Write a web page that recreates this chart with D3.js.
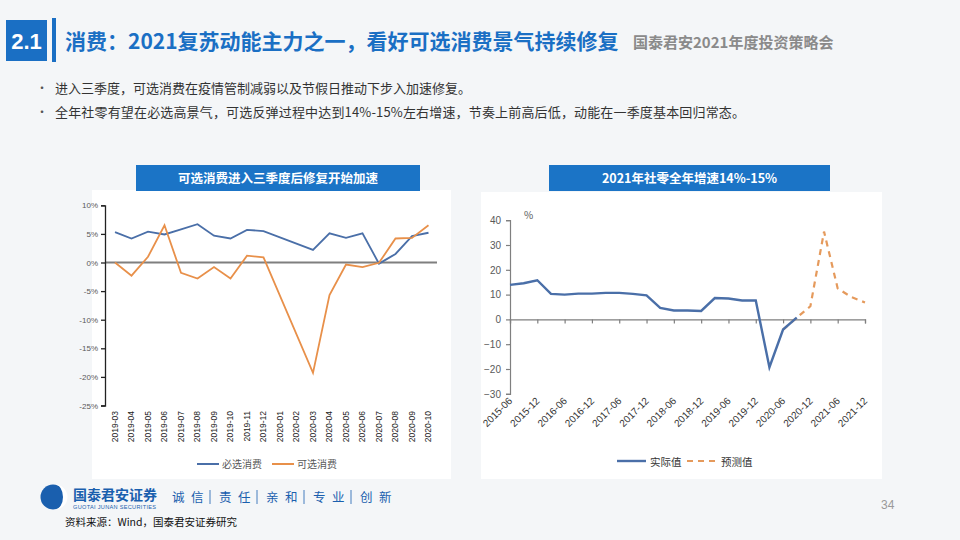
<!DOCTYPE html>
<html><head><meta charset="utf-8">
<script src="https://cdn.jsdelivr.net/npm/d3@7/dist/d3.min.js"></script>
<style>
html,body{margin:0;padding:0;background:#f4f6f8;}
svg{display:block;font-family:"Noto Sans CJK SC","Liberation Sans",sans-serif;}
</style></head>
<body>
<svg id="c" width="960" height="540"></svg>
<script>
// ---------- data ----------
const bullets = [
  "进入三季度，可选消费在疫情管制减弱以及节假日推动下步入加速修复。",
  "全年社零有望在必选高景气，可选反弹过程中达到14%-15%左右增速，节奏上前高后低，动能在一季度基本回归常态。"
];
const leftCats = ["2019-03","2019-04","2019-05","2019-06","2019-07","2019-08","2019-09","2019-10","2019-11","2019-12",
  "2020-01","2020-02","2020-03","2020-04","2020-05","2020-06","2020-07","2020-08","2020-09","2020-10"];
const essential = [5.3,4.2,5.4,4.9,5.8,6.7,4.7,4.2,5.7,5.5,null,null,2.2,5.1,4.3,5.1,-0.2,1.5,4.6,5.2];
const discretionary = [0,-2.3,1.0,6.5,-1.8,-2.8,-0.8,-2.8,1.2,0.9,null,null,-19.3,-5.7,-0.35,-0.8,-0.05,4.2,4.3,6.5];
const leftYTicks = [-25,-20,-15,-10,-5,0,5,10];
const leftSeriesNames = ["必选消费","可选消费"];

const rightTicks = ["2015-06","2015-12","2016-06","2016-12","2017-06","2017-12","2018-06","2018-12",
  "2019-06","2019-12","2020-06","2020-12","2021-06","2021-12"];
const actualDates = ["2015-06","2015-09","2015-12","2016-03","2016-06","2016-09","2016-12","2017-03","2017-06","2017-09",
  "2017-12","2018-03","2018-06","2018-09","2018-12","2019-03","2019-06","2019-09","2019-12","2020-03","2020-06","2020-09"];
const actualValues = [13.9,14.6,15.8,10.3,10.0,10.4,10.4,10.7,10.7,10.3,9.7,4.6,3.6,3.6,3.4,8.6,8.4,7.6,7.6,-19.3,-4.1,0.7];
const forecastDates = ["2020-06","2020-09","2020-12","2021-03","2021-06","2021-09","2021-12"];
const forecastValues = [-4.1,0.7,5.3,35.4,12.5,9.0,6.8];
const rightYTicks = [-30,-20,-10,0,10,20,30,40];
const rightSeriesNames = ["实际值","预测值"];

const sloganGroups = [["诚","信"],["责","任"],["亲","和"],["专","业"],["创","新"]];

// ---------- drawing ----------
const svg = d3.select("#c");
const BLUE = "#1a6fc4", LBLUE = "#4a6fa8", ORANGE = "#e8904a", GRAYTXT = "#595959";

// header
svg.append("rect").attr("x",6).attr("y",20).attr("width",41).attr("height",41).attr("fill",BLUE);
svg.append("text").attr("x",26.5).attr("y",49).attr("text-anchor","middle").attr("fill","#fff")
  .attr("font-size",22).attr("font-weight","bold").attr("font-family","Liberation Sans, sans-serif").text("2.1");
svg.append("rect").attr("x",52).attr("y",18).attr("width",4).attr("height",44).attr("fill",BLUE);
svg.append("text").attr("x",65).attr("y",49).attr("fill",BLUE).attr("font-size",21).attr("font-weight","bold")
  .text("消费：2021复苏动能主力之一，看好可选消费景气持续修复");
svg.append("text").attr("x",633).attr("y",48).attr("fill","#8a8a8a").attr("font-size",15).attr("font-weight","bold")
  .text("国泰君安2021年度投资策略会");

// bullets
bullets.forEach((t,i)=>{
  const y = 93 + i*24;
  svg.append("text").attr("x",36).attr("y",y).attr("fill","#555").attr("font-size",12).text("•");
  const tx = svg.append("text").attr("x",55).attr("y",y).attr("fill","#333").attr("font-size",13).text(t);
  if (i === 1) tx.attr("textLength",690).attr("lengthAdjust","spacing");
});

// ---------- left chart ----------
svg.append("rect").attr("x",92).attr("y",190).attr("width",359).attr("height",289).attr("fill","#fff");
svg.append("rect").attr("x",136).attr("y",165).attr("width",284).attr("height",26).attr("fill","#1b74c6");
svg.append("text").attr("x",278).attr("y",183).attr("text-anchor","middle").attr("fill","#fff")
  .attr("font-size",12.5).attr("font-weight","bold").text("可选消费进入三季度后修复开始加速");

const lx = d3.scaleBand().domain(leftCats).range([106.75,436.75]);
const ly = d3.scaleLinear().domain([-25,10]).range([405.5,205.3]);
const lc = d => lx(d) + lx.bandwidth()/2;

svg.append("line").attr("x1",105).attr("x2",437).attr("y1",ly(0)).attr("y2",ly(0))
  .attr("stroke","#7f7f7f").attr("stroke-width",2.2);

const lyAxis = svg.append("g").attr("transform","translate(105,0)")
  .call(d3.axisLeft(ly).tickValues(leftYTicks).tickFormat(d=>d+"%").tickSize(4).tickPadding(3));
lyAxis.selectAll("path,line").attr("stroke","#222").attr("stroke-width",1.3);
lyAxis.selectAll("text").attr("fill",GRAYTXT).attr("font-size",8).attr("font-family","Liberation Sans, sans-serif");

const lxAxis = svg.append("g").attr("transform","translate(0,409)")
  .call(d3.axisBottom(lx).tickSize(0).tickPadding(0));
lxAxis.select(".domain").remove();
lxAxis.selectAll("text").attr("transform","rotate(-90)").attr("text-anchor","end")
  .attr("x",-2).attr("y",0).attr("dy","0.35em").attr("fill","#222").attr("font-size",8.5)
  .attr("font-family","Liberation Sans, sans-serif");

const lline = d3.line().defined(d=>d[1]!==null).x(d=>lc(d[0])).y(d=>ly(d[1]));
[[essential,LBLUE],[discretionary,ORANGE]].forEach(([vals,col])=>{
  const pts = leftCats.map((c,i)=>[c,vals[i]]).filter(d=>d[1]!==null);
  svg.append("path").datum(pts).attr("d",lline).attr("fill","none").attr("stroke",col).attr("stroke-width",1.8);
});

[[197,LBLUE],[272,ORANGE]].forEach(([x,col],i)=>{
  svg.append("line").attr("x1",x).attr("x2",x+22).attr("y1",464).attr("y2",464).attr("stroke",col).attr("stroke-width",2);
  svg.append("text").attr("x",x+25).attr("y",468).attr("fill",GRAYTXT).attr("font-size",10).text(leftSeriesNames[i]);
});

// ---------- right chart ----------
svg.append("rect").attr("x",481).attr("y",192).attr("width",401).attr("height",287).attr("fill","#fff");
svg.append("rect").attr("x",549).attr("y",165).attr("width",281).attr("height",26).attr("fill","#1b74c6");
svg.append("text").attr("x",689.5).attr("y",183).attr("text-anchor","middle").attr("fill","#fff")
  .attr("font-size",12.5).attr("font-weight","bold").text("2021年社零全年增速14%-15%");

const mIdx = s => { const [y,m] = s.split("-").map(Number); return (y-2015)*12 + (m-6); };
const rx = d3.scaleLinear().domain([0,78]).range([510,865]);
const ry = d3.scaleLinear().domain([-30,40]).range([393.8,220.2]);

const ryAxis = svg.append("g").attr("transform","translate(510,0)")
  .call(d3.axisLeft(ry).tickValues(rightYTicks).tickSize(4).tickPadding(5));
ryAxis.selectAll("path,line").attr("stroke","#7f7f7f").attr("stroke-width",1.2);
ryAxis.selectAll("text").attr("fill",GRAYTXT).attr("font-size",10).attr("font-family","Liberation Sans, sans-serif");

const tickIdx = rightTicks.map(mIdx);
const rxAxis = svg.append("g").attr("transform",`translate(0,${ry(0)})`)
  .call(d3.axisBottom(rx).tickValues(tickIdx).tickSize(4).tickFormat(""));
rxAxis.selectAll("path,line").attr("stroke","#7f7f7f").attr("stroke-width",1.2);

const rxLab = svg.append("g").attr("transform","translate(0,399)")
  .call(d3.axisBottom(rx).tickValues(tickIdx).tickSize(0).tickPadding(0).tickFormat((d,i)=>rightTicks[i]));
rxLab.select(".domain").remove();
rxLab.selectAll("text").attr("transform","rotate(-45)").attr("text-anchor","end")
  .attr("x",0).attr("y",0).attr("dy","0.35em").attr("fill","#333").attr("font-size",10)
  .attr("font-family","Liberation Sans, sans-serif");

svg.append("text").attr("x",524).attr("y",219).attr("fill",GRAYTXT).attr("font-size",10).text("%");

const rline = d3.line().x(d=>rx(mIdx(d[0]))).y(d=>ry(d[1]));
svg.append("path").datum(forecastDates.map((d,i)=>[d,forecastValues[i]])).attr("d",rline)
  .attr("fill","none").attr("stroke","#e59a5c").attr("stroke-width",2.2).attr("stroke-dasharray","6,5");
svg.append("path").datum(actualDates.map((d,i)=>[d,actualValues[i]])).attr("d",rline)
  .attr("fill","none").attr("stroke",LBLUE).attr("stroke-width",2.4);

svg.append("line").attr("x1",617).attr("x2",646).attr("y1",461).attr("y2",461).attr("stroke",LBLUE).attr("stroke-width",2.4);
svg.append("text").attr("x",650).attr("y",465.5).attr("fill","#333").attr("font-size",10.5).text(rightSeriesNames[0]);
svg.append("line").attr("x1",687).attr("x2",717).attr("y1",461).attr("y2",461).attr("stroke","#e59a5c")
  .attr("stroke-width",2.2).attr("stroke-dasharray","6,5");
svg.append("text").attr("x",721).attr("y",465.5).attr("fill","#333").attr("font-size",10.5).text(rightSeriesNames[1]);

// ---------- footer ----------
const FB = "#1a5fae";
svg.append("circle").attr("cx",53).attr("cy",497).attr("r",12.5).attr("fill",FB);
svg.append("path").attr("d","M55,484.5 A12.5,12.5 0 0 1 55,509.5 A8,12.5 0 0 0 55,484.5 Z").attr("fill","#fff");
svg.append("text").attr("x",73).attr("y",500).attr("fill",FB).attr("font-size",14).attr("font-weight","bold").text("国泰君安证券");
svg.append("text").attr("x",73).attr("y",508.5).attr("fill",FB).attr("font-size",5.6)
  .attr("font-family","Liberation Sans, sans-serif").attr("textLength",83).text("GUOTAI JUNAN SECURITIES");
sloganGroups.forEach((g,k)=>{
  const gx = 172 + k*47;
  g.forEach((ch,j)=>{
    svg.append("text").attr("x",gx + j*19).attr("y",502).attr("fill",FB).attr("font-size",12.5).text(ch);
  });
  if (k < sloganGroups.length-1)
    svg.append("line").attr("x1",gx+38).attr("x2",gx+38).attr("y1",490).attr("y2",504).attr("stroke",FB).attr("stroke-width",0.8);
});
svg.append("text").attr("x",881).attr("y",509).attr("fill","#9a9a9a").attr("font-size",12).attr("font-family","Liberation Sans, sans-serif").text("34");
svg.append("text").attr("x",65).attr("y",526).attr("fill","#111").attr("font-size",10.5).text("资料来源：Wind，国泰君安证券研究");
</script>
</body></html>
